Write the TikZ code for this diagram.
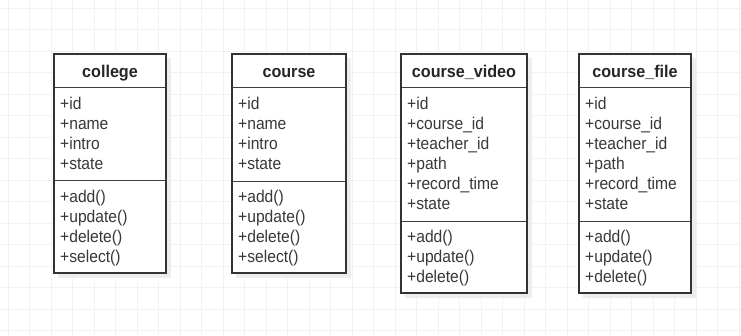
\documentclass[tikz,border=0pt]{standalone}
\usepackage{fontspec}
\setmainfont{Liberation Sans}
\begin{document}
\begin{tikzpicture}[x=1pt,y=-1pt,
  boxline/.style={draw=black!80,line width=1.1pt},
  sepline/.style={draw=black!75,line width=1pt},
  shadowbox/.style={fill=black!7,draw=none},
  ttl/.style={font=\fontsize{17}{20}\selectfont\bfseries,text=black!85,inner sep=0pt,anchor=base,xscale=0.95,transform shape},
  itm/.style={font=\fontsize{17}{20}\selectfont,text=black!78,inner sep=0pt,anchor=base west,xscale=0.92,transform shape},
  gridline/.style={draw=black!5,line width=0.6pt}
]
\useasboundingbox (0,0) rectangle (741,336);
\fill[white] (0,0) rectangle (741,336);
\foreach \i in {0,...,34} {\draw[gridline] (8+21.5*\i,0) -- (8+21.5*\i,336);}
\foreach \j in {0,...,15} {\draw[gridline] (0,8+21.5*\j) -- (741,8+21.5*\j);}

% ---------- college ----------
\fill[shadowbox] (58,58) rectangle (171,278);
\fill[white] (54,54) rectangle (166,273);
\node[ttl] (t1) at (110,78) {college};
\foreach \s/\y in {id/110,name/130,intro/150,state/170} {\node[itm] (c1\s) at (60,\y) {+\s};}
\foreach \s/\y in {add/203,update/223,delete/243,select/263} {\node[itm] (c1m\s) at (60,\y) {+\s()};}
\draw[sepline] (54,88) -- (166,88);
\draw[sepline] (54,181) -- (166,181);
\draw[boxline] (54,54) rectangle (166,273);

% ---------- course ----------
\fill[shadowbox] (236,58) rectangle (351,278);
\fill[white] (232,54) rectangle (346,273);
\node[ttl] (t2) at (289,78) {course};
\foreach \s/\y in {id/110,name/130,intro/150,state/170} {\node[itm] (c2\s) at (238,\y) {+\s};}
\foreach \s/\y in {add/203,update/223,delete/243,select/263} {\node[itm] (c2m\s) at (238,\y) {+\s()};}
\draw[sepline] (232,88) -- (346,88);
\draw[sepline] (232,182) -- (346,182);
\draw[boxline] (232,54) rectangle (346,273);

% ---------- course_video ----------
\fill[shadowbox] (405,58) rectangle (532,298);
\fill[white] (401,54) rectangle (527,293);
\node[ttl] (t3) at (464,78) {course\_video};
\foreach \s/\y in {id/110,course\_id/130,teacher\_id/150,path/170,record\_time/190,state/210} {\node[itm] at (407,\y) {+\s};}
\foreach \s/\y in {add/243,update/263,delete/283} {\node[itm] (c3m\s) at (407,\y) {+\s()};}
\draw[sepline] (401,88) -- (527,88);
\draw[sepline] (401,222) -- (527,222);
\draw[boxline] (401,54) rectangle (527,293);

% ---------- course_file ----------
\fill[shadowbox] (583,58) rectangle (696,298);
\fill[white] (579,54) rectangle (691,293);
\node[ttl] (t4) at (635,78) {course\_file};
\foreach \s/\y in {id/110,course\_id/130,teacher\_id/150,path/170,record\_time/190,state/210} {\node[itm] at (585,\y) {+\s};}
\foreach \s/\y in {add/243,update/263,delete/283} {\node[itm] (c4m\s) at (585,\y) {+\s()};}
\draw[sepline] (579,88) -- (691,88);
\draw[sepline] (579,222) -- (691,222);
\draw[boxline] (579,54) rectangle (691,293);
\end{tikzpicture}
\end{document}
